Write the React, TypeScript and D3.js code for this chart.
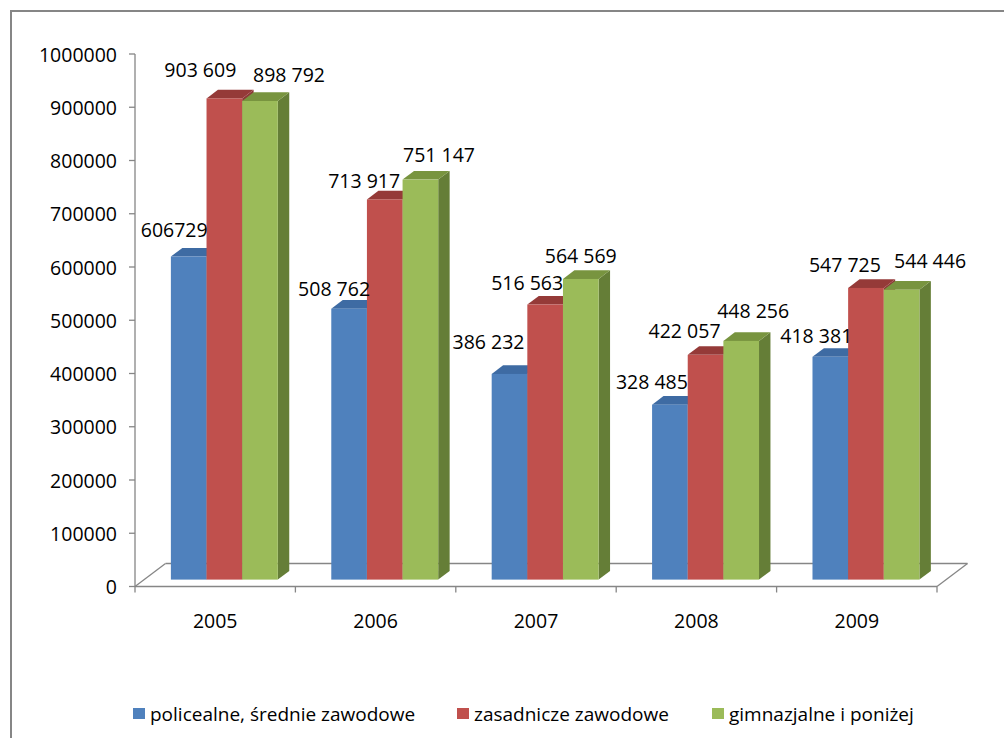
import React from "react";
import * as d3 from "d3";

const years = ["2005", "2006", "2007", "2008", "2009"];
const seriesNames = ["policealne, średnie zawodowe", "zasadnicze zawodowe", "gimnazjalne i poniżej"];
const policealne = [606729, 508762, 386232, 328485, 418381];
const zasadnicze = [903609, 713917, 516563, 422057, 547725];
const gimnazjalne = [898792, 751147, 564569, 448256, 544446];
const policealneLabels = ["606729", "508 762", "386 232", "328 485", "418 381"];
const zasadniczeLabels = ["903 609", "713 917", "516 563", "422 057", "547 725"];
const gimnazjalneLabels = ["898 792", "751 147", "564 569", "448 256", "544 446"];
const yTicks = [0, 100000, 200000, 300000, 400000, 500000, 600000, 700000, 800000, 900000, 1000000];

// label nudges relative to the top-front-centre of each bar (layout only)
const labelNudges = [
  [[-14.5, -27.5], [-15, -20.5], [-21, -32], [-18, -23], [-14, -21]],
  [[-24, -29], [-20.6, -18.5], [-18, -22], [-21, -24], [-21, -23]],
  [[29, -26], [18.6, -25], [0, -23.4], [12, -30], [28.5, -29]],
];

const colors = [
  { front: "#4F81BD", top: "#3E6BA3", side: "#385D8A" },
  { front: "#C0504D", top: "#953A38", side: "#8C3836" },
  { front: "#9BBB59", top: "#78943F", side: "#657E37" },
];

const FONT = "'Open Sans', Calibri, sans-serif";
const AXIS = "#868686";

export default function App() {
  const W = 1004, H = 738;
  const values = [policealne, zasadnicze, gimnazjalne];
  const labels = [policealneLabels, zasadniczeLabels, gimnazjalneLabels];

  const x = d3.scaleBand<string>().domain(years).range([135, 937]).paddingInner(0).paddingOuter(0);
  const xs = d3.scaleBand<string>().domain(seriesNames).range([0, x.bandwidth()]).paddingInner(0).paddingOuter(0.75);
  const y = d3.scaleLinear().domain([0, 1000000]).range([586.5, 54]);

  const D = { dx: 30.5, dy: -23 };
  const F = { dx: D.dx * 0.3, dy: D.dy * 0.3 };
  const B = { dx: D.dx * 0.375, dy: D.dy * 0.375 };
  const w = xs.bandwidth();
  const x0a = x.range()[0], x1a = x.range()[1];
  const y0 = y(0);

  const pts = (p: number[][]) => p.map((q) => q.join(",")).join(" ");

  return (
    <svg width={W} height={H} style={{ position: "fixed", left: 0, top: 0, display: "block", background: "#fff" }}>
      <rect x={11} y={11} width={1100} height={900} fill="#fff" stroke={AXIS} strokeWidth={2} />
      {/* floor */}
      <g stroke={AXIS} strokeWidth={1.3} fill="none">
        <line x1={x0a} y1={y0} x2={x0a + D.dx} y2={y0 + D.dy} />
        <line x1={x0a + D.dx} y1={y0 + D.dy} x2={x1a + D.dx} y2={y0 + D.dy} />
        <line x1={x1a} y1={y0} x2={x1a + D.dx} y2={y0 + D.dy} />
        <line x1={x0a} y1={y0} x2={x1a} y2={y0} />
        <line x1={x0a} y1={y(1000000)} x2={x0a} y2={y0} />
        {yTicks.map((t) => (
          <line key={t} x1={x0a - 6} y1={y(t)} x2={x0a} y2={y(t)} />
        ))}
        {[...years.map((yr) => x(yr) as number), x1a].map((px, i) => (
          <line key={i} x1={px} y1={y0} x2={px} y2={y0 + 6} />
        ))}
      </g>
      {/* y tick labels */}
      <g fontFamily={FONT} fontSize={19.5} fill="#000" textAnchor="end">
        {yTicks.map((t) => (
          <text key={t} x={117} y={y(t)} dominantBaseline="central">{d3.format("d")(t)}</text>
        ))}
      </g>
      {/* x labels */}
      <g fontFamily={FONT} fontSize={19.5} fill="#000" textAnchor="middle">
        {years.map((yr) => (
          <text key={yr} x={(x(yr) as number) + x.bandwidth() / 2} y={620.5} dominantBaseline="central">{yr}</text>
        ))}
      </g>
      {/* bars */}
      {years.map((yr, i) => (
        <g key={yr}>
          {seriesNames.map((s, si) => {
            const v = values[si][i];
            const bx0 = (x(yr) as number) + (xs(s) as number) + F.dx;
            const bx1 = bx0 + w;
            const yb = y0 + F.dy;
            const yt = y(v) + F.dy;
            const c = colors[si];
            return (
              <g key={s}>
                <polygon points={pts([[bx1, yt], [bx1 + B.dx, yt + B.dy], [bx1 + B.dx, yb + B.dy], [bx1, yb]])} fill={c.side} />
                <polygon points={pts([[bx0, yt], [bx0 + B.dx, yt + B.dy], [bx1 + B.dx, yt + B.dy], [bx1, yt]])} fill={c.top} />
                <rect x={bx0} y={yt} width={w} height={yb - yt} fill={c.front} />
              </g>
            );
          })}
        </g>
      ))}
      {/* value labels */}
      <g fontFamily={FONT} fontSize={19.5} fill="#000" textAnchor="middle">
        {years.map((yr, i) =>
          seriesNames.map((s, si) => {
            const v = values[si][i];
            const cx = (x(yr) as number) + (xs(s) as number) + F.dx + w / 2 + labelNudges[si][i][0];
            const cy = y(v) + F.dy + labelNudges[si][i][1];
            return (
              <text key={yr + s} x={cx} y={cy} dominantBaseline="central">{labels[si][i]}</text>
            );
          })
        )}
      </g>
      {/* legend */}
      <g fontFamily={FONT} fontSize={19} fill="#000">
        {seriesNames.map((s, si) => {
          const lx = [133, 457, 712][si];
          return (
            <g key={s}>
              <rect x={lx} y={708} width={12} height={11} fill={colors[si].front} />
              <text x={lx + 17} y={714} dominantBaseline="central">{s}</text>
            </g>
          );
        })}
      </g>
    </svg>
  );
}
